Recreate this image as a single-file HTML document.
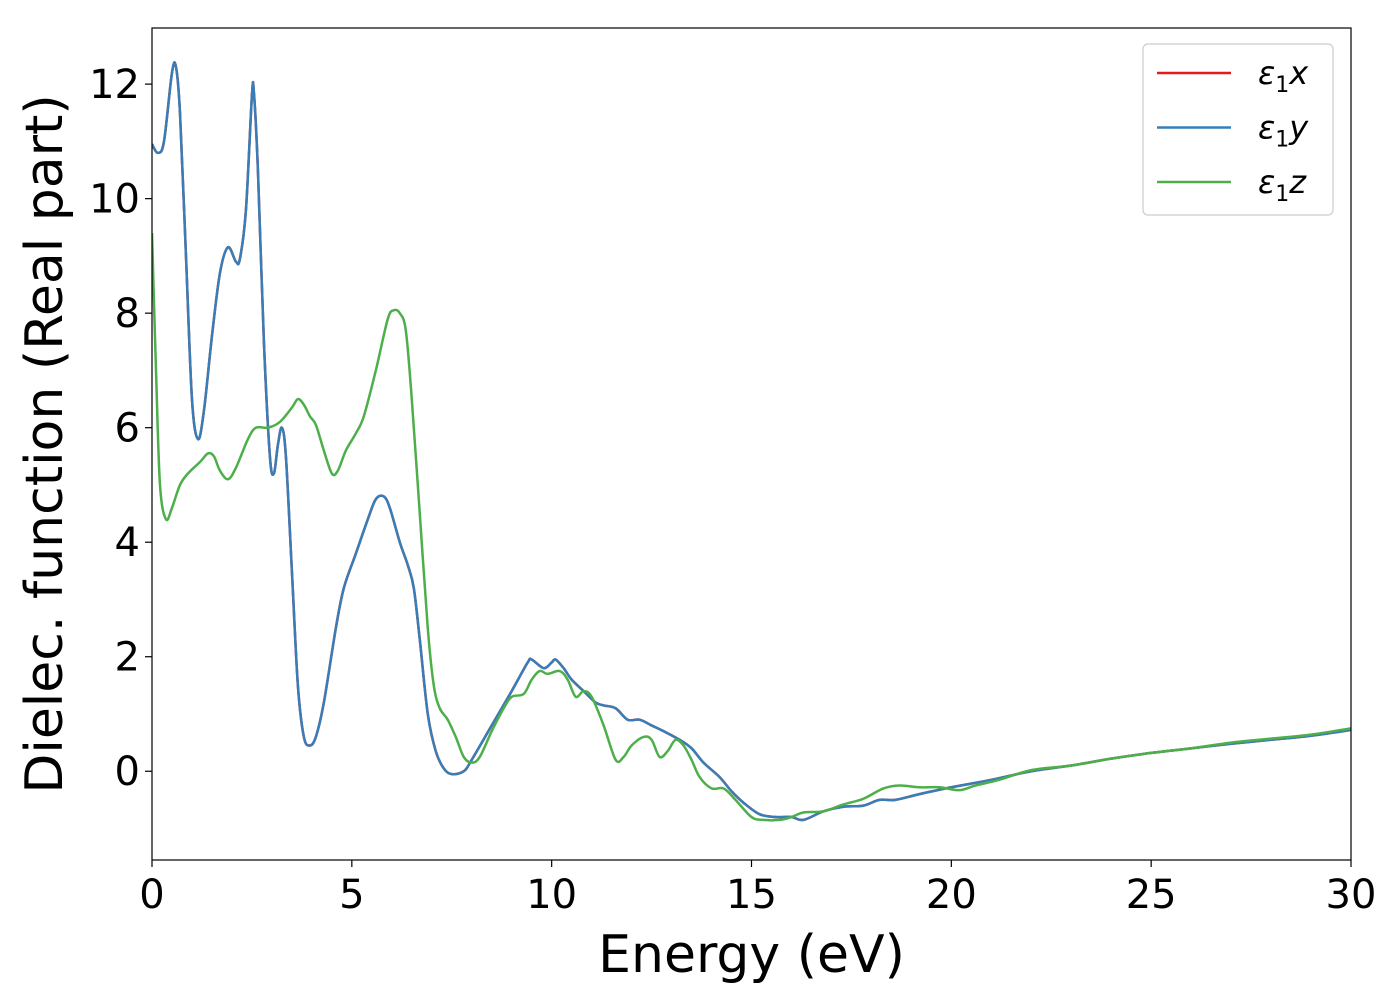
<!DOCTYPE html>
<html><head><meta charset="utf-8"><style>
html,body{margin:0;padding:0;background:#fff;}
svg{display:block;font-family:"DejaVu Sans","Liberation Sans",sans-serif;}
</style></head><body>
<svg id="chart" width="1400" height="1000">
<g id="plot"></g>
</svg>
<script>
const xTicks=[0,5,10,15,20,25,30];
const yTicks=[0,2,4,6,8,10,12];
const blueE=[0,0.15,0.3,0.5,0.6,0.7,0.85,1.0,1.15,1.3,1.5,1.7,1.9,2.1,2.2,2.35,2.5,2.55,2.65,2.8,2.95,3.05,3.15,3.25,3.35,3.5,3.65,3.8,3.95,4.1,4.3,4.6,4.8,5.1,5.4,5.6,5.8,5.95,6.2,6.4,6.55,6.7,6.9,7.1,7.3,7.5,7.8,8.0,8.5,9.0,9.4,9.5,9.8,10.0,10.1,10.3,10.5,10.8,11.1,11.3,11.6,11.9,12.2,12.5,12.8,13.2,13.5,13.8,14.2,14.5,14.8,15.2,15.6,16.0,16.3,16.8,17.3,17.8,18.2,18.6,19.2,20,21,22,23,24,25,26,27,28,29,30];
const blueV=[10.95,10.8,11.0,12.2,12.3,11.5,9,6.5,5.8,6.3,7.6,8.7,9.15,8.9,8.95,9.8,11.8,11.85,10.5,7.5,5.5,5.2,5.7,6.0,5.5,3.5,1.5,0.6,0.45,0.6,1.2,2.5,3.2,3.8,4.4,4.75,4.8,4.6,4.0,3.6,3.2,2.3,1.0,0.35,0.05,-0.05,0,0.2,0.8,1.4,1.9,1.95,1.8,1.9,1.95,1.8,1.6,1.4,1.2,1.15,1.1,0.9,0.9,0.8,0.7,0.55,0.4,0.15,-0.1,-0.35,-0.55,-0.75,-0.8,-0.8,-0.85,-0.7,-0.62,-0.6,-0.5,-0.5,-0.4,-0.28,-0.15,0,0.1,0.22,0.32,0.4,0.48,0.55,0.62,0.72];
const greenE=[0,0.1,0.2,0.35,0.5,0.7,0.9,1.2,1.4,1.55,1.7,1.9,2.1,2.4,2.6,2.9,3.2,3.5,3.65,3.8,3.95,4.1,4.3,4.5,4.65,4.85,5.1,5.3,5.6,5.9,6.05,6.2,6.35,6.5,6.7,6.9,7.05,7.2,7.4,7.6,7.8,8.0,8.2,8.5,8.8,9.0,9.3,9.5,9.7,9.9,10.2,10.4,10.6,10.8,11.0,11.3,11.6,11.8,12.0,12.3,12.5,12.7,12.9,13.1,13.3,13.5,13.7,14.0,14.3,14.6,15.0,15.3,15.7,16.0,16.3,16.8,17.3,17.8,18.3,18.7,19.2,19.7,20.2,20.6,21.2,22,23,24,25,26,27,28,29,30];
const greenV=[9.4,7,5,4.4,4.6,5.0,5.2,5.4,5.55,5.5,5.25,5.1,5.3,5.8,6.0,6.0,6.1,6.35,6.5,6.4,6.2,6.05,5.6,5.2,5.25,5.6,5.9,6.2,7.0,7.9,8.05,8.0,7.7,6.5,4.5,2.5,1.5,1.1,0.9,0.6,0.25,0.15,0.25,0.7,1.1,1.3,1.35,1.6,1.75,1.7,1.75,1.6,1.3,1.4,1.3,0.8,0.2,0.25,0.45,0.6,0.55,0.25,0.35,0.55,0.45,0.2,-0.1,-0.3,-0.3,-0.5,-0.8,-0.85,-0.85,-0.8,-0.72,-0.7,-0.58,-0.48,-0.3,-0.25,-0.28,-0.28,-0.33,-0.25,-0.15,0.02,0.1,0.22,0.32,0.4,0.5,0.57,0.64,0.75];
const legendLabels=["x","y","z"];
const colors=["#e41a1c","#377eb8","#4daf4a"];
const X0=152,X1=1351,Y0=28,Y1=860,xMin=0,xMax=30,yMin=-1.55,yMax=12.98;
const sx=v=>X0+(v-xMin)/(xMax-xMin)*(X1-X0);
const sy=v=>Y1-(v-yMin)/(yMax-yMin)*(Y1-Y0);
const NS="http://www.w3.org/2000/svg";
const g=document.getElementById('plot');
function mk(t,a,p){const e=document.createElementNS(NS,t);for(const k in a)e.setAttribute(k,a[k]);(p||g).appendChild(e);return e;}
function path(E,V){const p=E.map((e,i)=>[sx(e),sy(V[i])]);let d=`M${p[0][0]},${p[0][1]}`;
for(let i=0;i<p.length-1;i++){const a=p[Math.max(0,i-1)],b=p[i],c=p[i+1],n=p[Math.min(p.length-1,i+2)];
d+=` C${b[0]+(c[0]-a[0])/6},${b[1]+(c[1]-a[1])/6} ${c[0]-(n[0]-b[0])/6},${c[1]-(n[1]-b[1])/6} ${c[0]},${c[1]}`;}return d;}
mk('defs',{}).innerHTML='<clipPath id="cp"><rect x="152" y="28" width="1199" height="832"/></clipPath>';
const series=[[blueE,blueV],[blueE,blueV],[greenE,greenV]];
const names=['series-e1x','series-e1y','series-e1z'];
series.forEach((s,i)=>{const l=mk('path',{d:path(s[0],s[1]),fill:'none',stroke:colors[i],'stroke-width':2.5,'stroke-linejoin':'round','clip-path':'url(#cp)'});

});
const fr=mk('rect',{x:X0,y:Y0,width:X1-X0,height:Y1-Y0,fill:'none',stroke:'#000','stroke-width':1.2});


xTicks.forEach(t=>{mk('line',{x1:sx(t),x2:sx(t),y1:Y1,y2:Y1+7,stroke:'#000','stroke-width':1.2});
const tx=mk('text',{x:sx(t),y:Y1+48,'font-size':40,'text-anchor':'middle'});tx.textContent=t;

});
yTicks.forEach(t=>{mk('line',{x1:X0-7,x2:X0,y1:sy(t),y2:sy(t),stroke:'#000','stroke-width':1.2});
const tx=mk('text',{x:X0-12,y:sy(t)+14,'font-size':40,'text-anchor':'end'});tx.textContent=t;

});
const xt=mk('text',{x:(X0+X1)/2,y:972,'font-size':52,'text-anchor':'middle'});xt.textContent='Energy (eV)';


const yt=mk('text',{x:0,y:0,'font-size':52,'text-anchor':'middle',transform:`translate(62,${(Y0+Y1)/2}) rotate(-90)`});yt.textContent='Dielec. function (Real part)';


const lg=mk('g',{});


mk('rect',{x:1143,y:44,width:190,height:171,rx:5,fill:'#fff','fill-opacity':0.8,stroke:'#ccc','stroke-width':1.2},lg);
legendLabels.forEach((lb,i)=>{const y=73+i*54.5;
mk('line',{x1:1157,x2:1231,y1:y,y2:y,stroke:colors[i],'stroke-width':2.5},lg);
const t=mk('text',{x:1258,y:y+11,'font-size':32,'font-style':'italic'},lg);
t.innerHTML='ε<tspan font-style="normal" font-size="22" dy="8">1</tspan><tspan dy="-8">'+lb+'</tspan>';

});
</script>
</body></html>
